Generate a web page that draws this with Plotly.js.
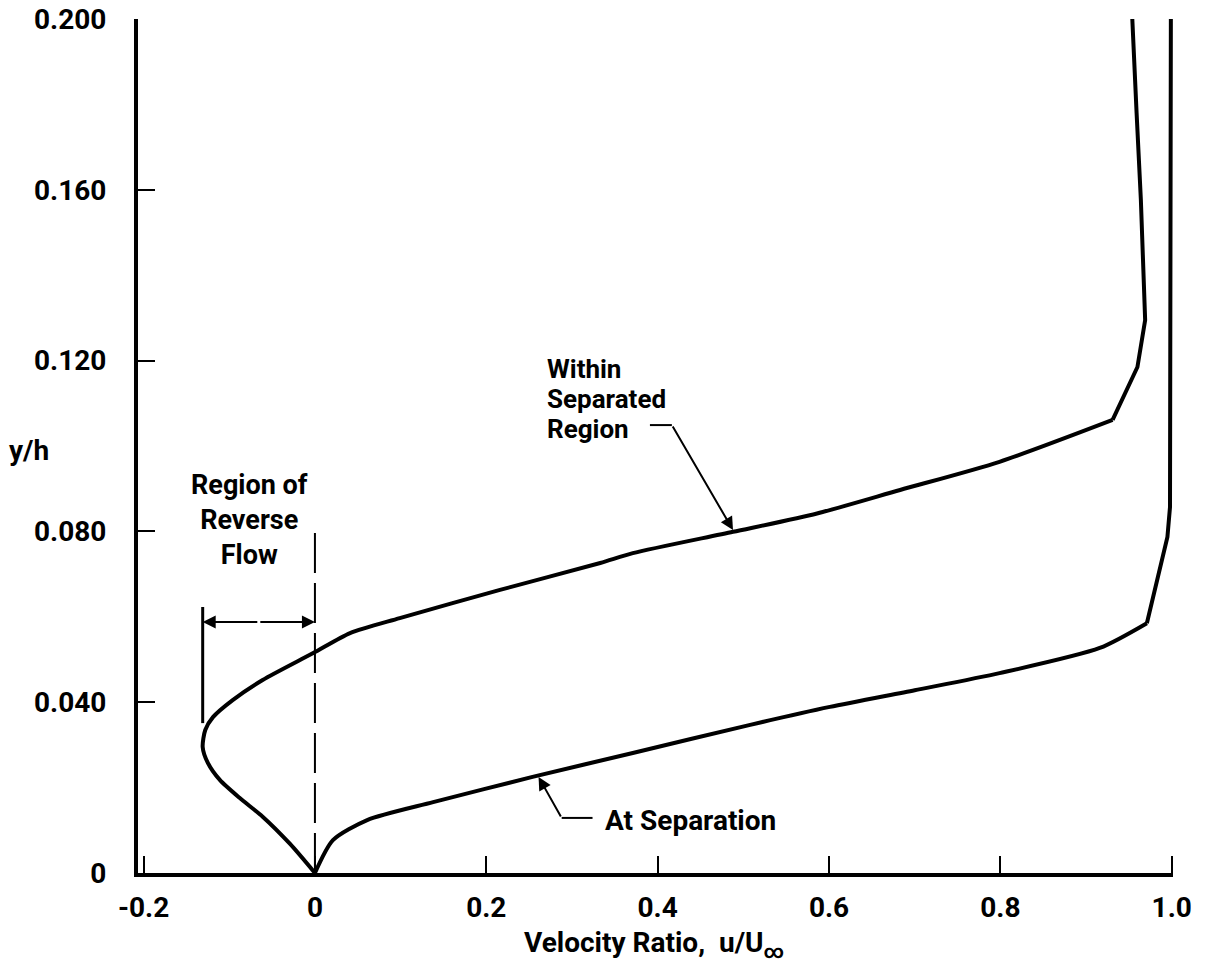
<!DOCTYPE html>
<html>
<head>
<meta charset="utf-8">
<script src="https://cdn.plot.ly/plotly-3.0.1.min.js"></script>
<style>
  html, body { margin: 0; padding: 0; background: #fff; }
  #chart { width: 1212px; height: 975px; }
</style>
</head>
<body>
<div id="chart"></div>
<script>
// Velocity profiles u/U∞ against y/h
// Profile inside the separated region (includes reverse flow near the wall)
const withinU = [0, -0.029, -0.061, -0.088, -0.111, -0.125, -0.131, -0.128, -0.119, -0.096, -0.061, -0.002,
                 0.041, 0.099, 0.216, 0.333, 0.371, 0.488, 0.586, 0.683, 0.799, 0.931, 0.960, 0.969,
                 0.964, 0.959, 0.954];
const withinY = [0, 0.0068, 0.0132, 0.0176, 0.0218, 0.0258, 0.0295, 0.0335, 0.0365, 0.0405, 0.0452, 0.0515,
                 0.0562, 0.0597, 0.0663, 0.0726, 0.0749, 0.0799, 0.0842, 0.0897, 0.0963, 0.1061, 0.1185, 0.1295,
                 0.1576, 0.178, 0.2];
// index where the smooth lower part ends and the outer part begins
const withinKnee = 21;

// Profile at the separation point
const sepU = [0, 0.021, 0.061, 0.138, 0.254, 0.371, 0.508, 0.601, 0.700, 0.799, 0.916, 0.971, 0.995, 0.998, 0.999];
const sepY = [0, 0.0077, 0.0124, 0.0166, 0.0225, 0.0281, 0.0347, 0.0389, 0.0428, 0.0468, 0.0527, 0.0585, 0.0787, 0.0857, 0.2];
const sepKnee = 11;

// Extent of the reverse-flow region
const reverseEdgeU = -0.131;
const reverseArrowY = 0.0588;
const reverseEdgeSpan = [0.0351, 0.0623];
const zeroLineTop = 0.0796;

// Axis ticks
const xTickVals = [-0.2, 0, 0.2, 0.4, 0.6, 0.8, 1.0];
const xTickText = ['-0.2', '0', '0.2', '0.4', '0.6', '0.8', '1.0'];
const yTickVals = [0, 0.04, 0.08, 0.12, 0.16, 0.2];
const yTickText = ['0', '0.040', '0.080', '0.120', '0.160', '0.200'];

const FONT = 'Roboto, "Liberation Sans", sans-serif';
const INK = '#000';
const txt = (size) => ({ family: FONT, size: size, color: INK, weight: 'bold' });

// each profile: smooth wall region (spline) + outer region with sharp bends (linear)
function profile(u, y, knee) {
  return [
    { x: u.slice(0, knee + 1), y: y.slice(0, knee + 1), mode: 'lines',
      line: { color: INK, width: 4, shape: 'spline', smoothing: 0.7 }, hoverinfo: 'skip', showlegend: false },
    { x: u.slice(knee), y: y.slice(knee), mode: 'lines',
      line: { color: INK, width: 4 }, hoverinfo: 'skip', showlegend: false }
  ];
}
const traces = profile(withinU, withinY, withinKnee).concat(profile(sepU, sepY, sepKnee));

const shapes = [
  // dashed line at u = 0
  { type: 'line', xref: 'x', yref: 'y', x0: 0, x1: 0, y0: 0, y1: zeroLineTop,
    line: { color: INK, width: 2, dash: '40px,10px' } },
  // left edge of the reverse-flow region
  { type: 'line', xref: 'x', yref: 'y', x0: reverseEdgeU, x1: reverseEdgeU,
    y0: reverseEdgeSpan[0], y1: reverseEdgeSpan[1], line: { color: INK, width: 3 } },
  // leader stubs
  { type: 'line', xref: 'x', yref: 'y', x0: 0.391, x1: 0.4166, y0: 0.1049, y1: 0.1049, line: { color: INK, width: 2 } },
  { type: 'line', xref: 'x', yref: 'y', x0: 0.288, x1: 0.324, y0: 0.0129, y1: 0.0129, line: { color: INK, width: 2 } }
];

const midReverse = reverseEdgeU / 2;
const arrow = (x, y, ax, ay) => ({
  x: x, y: y, ax: ax, ay: ay, xref: 'x', yref: 'y', axref: 'x', ayref: 'y',
  text: '', showarrow: true, arrowhead: 2, arrowsize: 1.3, arrowwidth: 2, arrowcolor: INK, standoff: 0, startstandoff: 0
});
const label = (text, x, y, xanchor, size) => ({
  text: text, x: x, y: y, xref: 'x', yref: 'y', xanchor: xanchor, yanchor: 'middle',
  showarrow: false, font: txt(size)
});

const annotations = [
  arrow(reverseEdgeU, reverseArrowY, midReverse, reverseArrowY),
  arrow(0, reverseArrowY, midReverse, reverseArrowY),
  arrow(0.488, 0.0803, 0.4166, 0.1049),
  arrow(0.261, 0.0225, 0.288, 0.0129),
  label('Within', 0.2684, 0.1180, 'left', 26),
  label('Separated', 0.2684, 0.1110, 'left', 26),
  label('Region', 0.2684, 0.1040, 'left', 26),
  Object.assign(label('Region of<br>Reverse<br>Flow', -0.0765, 0.0827, 'center', 27), { align: 'center' }),
  label('At Separation', 0.336, 0.0124, 'left', 28),
  { text: 'y/h', xref: 'paper', yref: 'paper', x: -0.1053, y: 0.4953, xanchor: 'center', yanchor: 'middle',
    showarrow: false, font: txt(28) },
  { text: 'Velocity Ratio,  u/U<sub>∞</sub>', xref: 'paper', yref: 'paper', x: 0.4986, y: -0.0843,
    xanchor: 'center', yanchor: 'middle', showarrow: false, font: txt(28) }
];

const layout = {
  width: 1212, height: 975,
  margin: { l: 138, r: 39, t: 19, b: 102 },
  paper_bgcolor: '#fff', plot_bgcolor: '#fff',
  showlegend: false,
  xaxis: {
    range: [-0.2065, 1.0015], showgrid: false, zeroline: false,
    showline: true, linecolor: INK, linewidth: 4,
    ticks: 'inside', ticklen: 17, tickwidth: 2, tickcolor: INK,
    tickvals: xTickVals, ticktext: xTickText, tickfont: txt(28), ticklabelstandoff: 6
  },
  yaxis: {
    range: [0, 0.2], showgrid: false, zeroline: false,
    showline: true, linecolor: INK, linewidth: 4,
    ticks: 'inside', ticklen: 17, tickwidth: 2, tickcolor: INK,
    tickvals: yTickVals, ticktext: yTickText, tickfont: txt(28), ticklabelstandoff: 22
  },
  shapes: shapes,
  annotations: annotations
};

Plotly.newPlot('chart', traces, layout, { displayModeBar: false, staticPlot: true });
</script>
</body>
</html>
